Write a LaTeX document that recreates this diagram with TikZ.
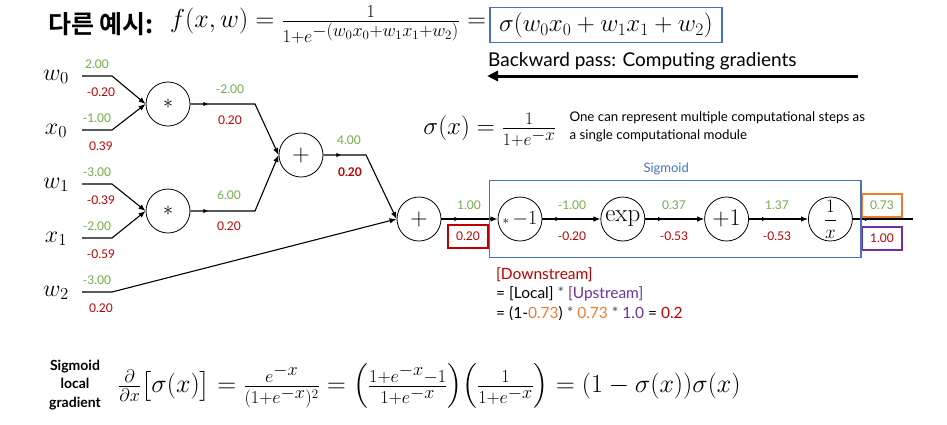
\RequirePackage{fix-cm}
\documentclass[tikz,border=0pt]{standalone}
\usepackage{amsmath}
\usepackage[no-math]{fontspec}
\setmainfont{Lato}
\newfontfamily\krfont{Noto Sans CJK KR Bold}
\usetikzlibrary{positioning,arrows.meta,decorations.markings,fit}
\definecolor{fwd}{HTML}{70AD47}
\definecolor{bwd}{HTML}{C00000}
\definecolor{sig}{HTML}{4472C4}
\definecolor{outc}{HTML}{ED7D31}
\definecolor{upc}{HTML}{7030A0}
\definecolor{star}{HTML}{44546A}
\tikzset{
  gate/.style={circle, draw, line width=0.8pt, minimum size=44pt, inner sep=0pt,
    font=\fontsize{24}{24}\selectfont},
  flow/.style={-{Latex[length=7pt,width=5.5pt]}, line width=1.1pt},
  tick/.style={postaction=decorate, decoration={markings,
    mark=at position #1 with {\arrow{Latex[length=5pt,width=4.5pt]}}}},
  tick/.default=18pt,
  gv/.style={font=\fontsize{12}{12}\selectfont, text=fwd, inner sep=1pt},
  rv/.style={font=\fontsize{12}{12}\selectfont, text=bwd, inner sep=1pt},
  vbox/.style={draw=#1, line width=2pt, font=\fontsize{12}{12}\selectfont,
    minimum width=40pt, minimum height=23pt, inner sep=1pt},
  inp/.style={font=\fontsize{24}{24}\selectfont, inner sep=0pt},
  big/.style={font=\fontsize{25}{28}\selectfont, inner sep=0pt},
}

\begin{document}
\begin{tikzpicture}[x=1pt,y=-1pt]
  \useasboundingbox (0,0) rectangle (947,424);

  % title line
  \node[draw=sig, line width=1.5pt, minimum width=232pt, minimum height=35pt, big] (sgf) at (606,25)
    {$\sigma(w_0x_0+w_1x_1+w_2)$};
  \node[anchor=west, inner sep=0pt, font=\krfont\fontsize{25}{25}\selectfont] (ttlkr) at (48,24) {다른 예시:};
  \node[anchor=east, inner sep=0pt, font=\fontsize{26}{30}\selectfont] (ttl) at ([xshift=-3pt]sgf.west)
    {$f(x,w)=\frac{1}{1+e^{\scriptstyle -(w_0x_0+w_1x_1+w_2)}}=$};

  % backward pass arrow
  \node[anchor=west, font=\fontsize{19}{19}\selectfont, inner sep=0pt] (bptx) at (488,61)
    {Backward pass: Computing gradients};
  \coordinate (bpR) at (858,76);
  \coordinate (bpL) at (487,76);
  \draw[-{Triangle[length=11pt,width=10pt]}, line width=3pt] (bpR) -- (bpL);

  % sigmoid definition
  \node[big] (sgdef) at (490,130) {$\sigma(x)=\frac{1}{1+e^{\scriptstyle -x}}$};
  \node[anchor=west, align=left, font=\fontsize{13.3}{18}\selectfont] (sgnote) at (566,127)
    {One can represent multiple computational steps as\\a single computational module};

  % gates
  \node[gate, font=\fontsize{20}{20}\selectfont] (m1) at (168,104) {$*$};
  \node[gate, font=\fontsize{20}{20}\selectfont] (m2) at (168,211) {$*$};
  \node[gate] (a1) at (301,155) {$+$};
  \node[gate] (a2) at (419,219) {$+$};
  \node[gate] (n1) at (520,219) {\fontsize{13}{13}\selectfont$*$\fontsize{20}{20}\selectfont$\,{-1}$};
  \node[gate, right=58pt of n1, font=\fontsize{25}{25}\selectfont] (ex) {$\exp$};
  \node[gate, right=59pt of ex] (p1) {$+1$};
  \node[gate, right=59pt of p1, font=\fontsize{19}{19}\selectfont] (iv) {$\dfrac{1}{x}$};

  % inputs
  \foreach \nm/\tx/\yy/\gt/\gn/\rn in {w0/w_0/76/m1/2.00/-0.20, x0/x_0/130/m1/-1.00/0.39,
      w1/w_1/184/m2/-3.00/-0.39, x1/x_1/238/m2/-2.00/-0.59, w2/w_2/292/a2/-3.00/0.20} {
    \node[inp] (\nm) at (56,\yy+1) {$\tx$};
    \coordinate (\nm s) at (82,\yy);
    \coordinate (\nm b) at (112,\yy);
    \draw[flow] (\nm s) -- (\nm b) -- (\gt.west);
    \node[gv] (\nm g) at (97,\yy-12) {\gn};
    \node[rv] (\nm r) at (101,\yy+16) {\rn};
  }

  % inner edges
  \coordinate (m1b) at (255,104);
  \coordinate (m2b) at (255,211);
  \coordinate (a1b) at (366,155);
  \draw[flow, tick] (m1.east) -- (m1b) -- (a1.west);
  \draw[flow, tick] (m2.east) -- (m2b) -- (a1.west);
  \draw[flow, tick] (a1.east) -- (a1b) -- (a2.west);
  \node[gv] (m1g) at (230,89) {-2.00};
  \node[rv] (m1r) at (230,120) {0.20};
  \node[gv] (m2g) at (229,195) {6.00};
  \node[rv] (m2r) at (229,226) {0.20};
  \node[gv] (a1g) at (349,140) {4.00};
  \node[rv, font=\fontsize{12}{12}\selectfont\bfseries] (a1r) at (350,172) {0.20};

  % sigmoid chain
  \draw[flow, tick] (a2) -- (n1);
  \draw[flow, tick] (n1) -- (ex);
  \draw[flow, tick] (ex) -- (p1);
  \draw[flow, tick] (p1) -- (iv);
  \coordinate (outE) at (913,219);
  \draw[line width=1.1pt, tick=17pt] (iv) -- (outE);
  \node[gv] (a2g) at (469,205) {1.00};
  \node[vbox=bwd, text=bwd] (a2r) at (468,236) {0.20};
  \node[gv] (n1g) at (572,205) {-1.00};
  \node[rv] (n1r) at (572,236) {-0.20};
  \node[gv] (exg) at (674,205) {0.37};
  \node[rv] (exr) at (674,236) {-0.53};
  \node[gv] (p1g) at (777,205) {1.37};
  \node[rv] (p1r) at (777,236) {-0.53};
  \node[vbox=outc, text=fwd] (ivg) at (882,205) {0.73};
  \node[vbox=upc, text=bwd] (ivr) at (882,238) {1.00};

  \node[draw=sig, line width=1.5pt, fit=(n1)(iv), inner xsep=8pt, inner ysep=16pt] (sgbox) {};
  \node[above=1pt of sgbox, xshift=-9pt, text=sig, font=\fontsize{13}{13}\selectfont] (sglab) {Sigmoid};

  % chain rule note
  \node[anchor=north west, align=left, font=\fontsize{15.5}{19.5}\selectfont, inner sep=0pt] (dsnote) at (496,267)
    {\textcolor{bwd}{[Downstream]}\\
     = [Local] \textcolor{star}{*} \textcolor{upc}{[Upstream]}\\
     = (1-\textcolor{outc}{0.73}) \textcolor{star}{*} \textcolor{outc}{0.73} \textcolor{star}{*} \textcolor{upc}{1.0} = \textcolor{bwd}{0.2}};

  % local gradient
  \node[align=center, font=\fontsize{14}{18.5}\selectfont\bfseries] (lglab) at (75,385)
    {Sigmoid\\local\\gradient};
  \node[anchor=west, inner sep=0pt, font=\fontsize{26}{30}\selectfont] (lgeq) at (118,386)
    {$\frac{\partial}{\partial x}\bigl[\sigma(x)\bigr]=\frac{e^{\scriptstyle -x}}{(1+e^{\scriptstyle -x})^2}
      =\Bigl(\frac{1+e^{\scriptstyle -x}-1}{1+e^{\scriptstyle -x}}\Bigr)\Bigl(\frac{1}{1+e^{\scriptstyle -x}}\Bigr)
      =(1-\sigma(x))\sigma(x)$};
\end{tikzpicture}
\end{document}
